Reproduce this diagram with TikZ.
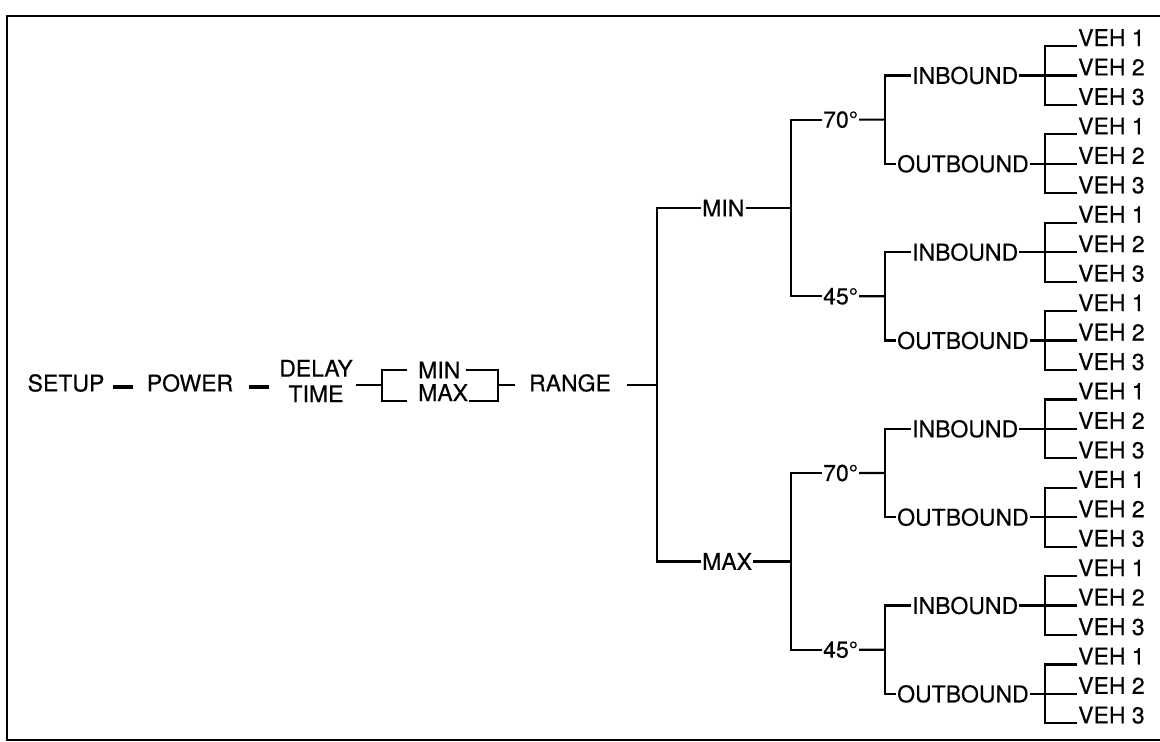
\documentclass[tikz,border=0pt]{standalone}
\usepackage{fontspec}
\setmainfont[FakeBold=0.4]{TeX Gyre Heros}
\usepackage{tikz}

\begin{document}
\begin{tikzpicture}[
    x=1pt, y=-1pt,
    lbl/.style={inner xsep=1pt, inner ysep=2pt,
                font=\fontsize{23}{25.5}\selectfont},
    link/.style={line width=2.2pt},
    gapdash/.style={line width=3.4pt},
    frame/.style={line width=2.8pt},
]
  \useasboundingbox (0,0) rectangle (1160,742);

  % ---- frame ----
  \draw[frame] (1162,16) -- (7,16) -- (7,740) -- (1162,740);

  % ---- left chain ----
  \node[lbl] (setup) at (66,383) {SETUP};
  \node[lbl] (power) at (190,383) {POWER};
  \node[lbl, align=center] (delay) at (316,381) {DELAY\\TIME};
  \node[lbl, anchor=west] (dmin) at (417,370) {MIN};
  \node[lbl, anchor=base west] (dmax) at (417,401) {MAX};
  \node[lbl] (range) at (570,383) {RANGE};

  \coordinate (dl) at (382,385);
  \coordinate (dr) at (498,385);
  \coordinate (rf) at (657,385);

  \draw[gapdash, shorten <=7pt, shorten >=13pt]
    ([yshift=-4pt]setup.east) -- ([yshift=-4pt]power.west);
  \draw[gapdash, shorten <=15pt, shorten >=9pt]
    ([yshift=-4pt]power.east) -- ([yshift=-4pt]power.east -| delay.west);
  \draw[link, shorten <=2pt] (dl -| delay.east) -- (dl);
  \draw[link, shorten >=10pt] (dl) |- (dmin.west);
  \draw[link, shorten >=10pt] (dl) |- (dmax.base west);
  \draw[link, shorten <=4pt] (dmin.east) -| (dr);
  \draw[link] (dmax.base east) -| (dr);
  \draw[link, shorten >=13pt] (dr) -- (dr -| range.west);
  \draw[link, shorten <=15pt] (range.east |- rf) -- (rf);

  % ---- min / max ----
  \node[lbl, anchor=west] (mn) at (701,208) {MIN};
  \node[lbl, anchor=west] (mx) at (701,561.4) {MAX};
  \draw[link] (rf) |- (mn.west);
  \draw[link] (rf) |- (mx.west);

  % ---- angles ----
  \node[lbl, anchor=west] (mn70) at (822,119.6) {70°};
  \node[lbl, anchor=west] (mn45) at (822,296.3) {45°};
  \node[lbl, anchor=west] (mx70) at (822,473.0) {70°};
  \node[lbl, anchor=west] (mx45) at (822,649.7) {45°};

  \coordinate (fmn) at (791,208);
  \coordinate (fmx) at (791,561.4);
  \draw[link] (mn.east) -- (fmn);
  \draw[link] (fmn) |- (mn70.west);
  \draw[link] (fmn) |- (mn45.west);
  \draw[link] (mx.east) -- (fmx);
  \draw[link] (fmx) |- (mx70.west);
  \draw[link] (fmx) |- (mx45.west);

  % ---- inbound / outbound and vehicles ----
  \foreach \a [count=\i from 0] in {mn70, mn45, mx70, mx45} {
    \pgfmathsetmacro{\yin}{75.45+176.7*\i}
    \pgfmathsetmacro{\yout}{\yin+88.35}
    \coordinate (f\a) at (885,{\yin+44.175});
    \draw[link] (\a.east) -- (f\a);
    \node[lbl, anchor=west] (\a in) at (911,\yin) {INBOUND};
    \node[lbl, anchor=west] (\a out) at (896,\yout) {OUTBOUND};
    \draw[link] (f\a) |- (\a in.west);
    \draw[link] (f\a) |- (\a out.west);
    \foreach \b/\yb in {in/\yin, out/\yout} {
      \coordinate (f\a\b) at (1045,\yb);
      \draw[link] (\a\b.east) -- (f\a\b);
      \foreach \k in {1,2,3} {
        \node[lbl, anchor=base west] (\a\b\k) at (1077,{\yb+29.45*(\k-2)}) {VEH \k};
        \draw[link] (f\a\b) |- (\a\b\k.base west);
      }
    }
  }
\end{tikzpicture}
\end{document}
